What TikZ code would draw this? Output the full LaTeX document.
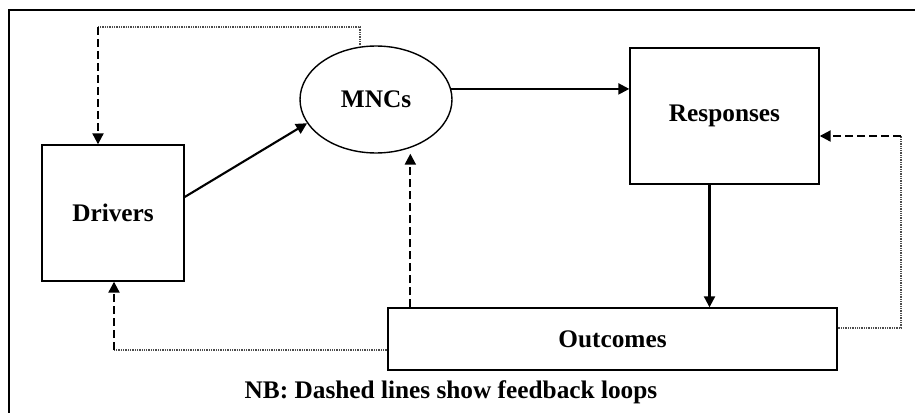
\documentclass[tikz,border=0pt]{standalone}
\usepackage{fontspec}
\setmainfont{Liberation Serif}
\usetikzlibrary{arrows.meta,positioning,calc,shapes.geometric}
\tikzset{box/.style={draw,line width=.8pt,inner sep=0pt,font=\fontsize{14.4}{17}\selectfont\bfseries},
 oval/.style={box,ellipse},
 arr/.style={-{Triangle[length=2.2mm,width=2.2mm]},line width=1.2pt},
 fb/.style={arr,dash pattern=on 1.6mm off .8mm},
 link/.style={line width=.6pt,black!70,dash pattern=on .5pt off .5pt},
 frame/.style={line width=1.2pt}}

\begin{document}
\begin{tikzpicture}[x=.02cm,y=-.02cm]
\useasboundingbox (0,0) rectangle (915,412);
\draw[frame] (9,420) -- (9,10) -- (915,10);
\node[box,minimum width=2.84cm,minimum height=2.72cm] (drv) at (113,213) {Drivers};
\node[oval,minimum width=3.04cm,minimum height=2.14cm] (mnc) at (376,99.5) {MNCs};
\node[box,minimum width=3.78cm,minimum height=2.72cm] (rsp) at (724.5,116) {Responses};
\node[box,minimum width=8.98cm,minimum height=1.24cm] (out) at (612.5,339) {Outcomes};
\node[font=\fontsize{14.4}{17}\selectfont\bfseries] (nb) at (451,392) {NB: Dashed lines show feedback loops};
% main flow
\draw[arr] ([yshift=3.2mm]drv.east) -- (mnc.199);
\draw[arr] (mnc.8) -- (mnc.8 -| rsp.west);
\draw[arr] ([xshift=-3mm]rsp.south) -- ([xshift=-3mm]rsp.south |- out.north);
% feedback loops
\coordinate (t1) at (98,27);
\coordinate (t2) at (360,27);
\coordinate (b1) at (114,350);
\coordinate (r1) at (901,328);
\coordinate (r2) at (901,136);
\draw[link] (mnc.north -| t2) -- (t2) -- (t1);
\draw[fb] (t1) -- (t1 |- drv.north);
\draw[link] (out.west |- b1) -- (b1);
\draw[fb] (b1) -- (b1 |- drv.south);
\draw[link] (out.east |- r1) -- (r1) -- (r2);
\draw[fb] (r2) -- (r2 -| rsp.east);
\draw[fb] ([xshift=4.6mm]out.north west) -- ([xshift=4.6mm]out.north west |- mnc.south);
\end{tikzpicture}
\end{document}
